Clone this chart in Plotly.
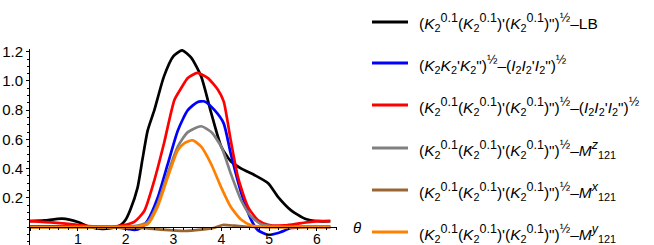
import plotly.graph_objects as go

# ---- data ----
lb_x = [0, 0.3, 0.67, 1.0, 1.25, 1.5, 1.75, 1.9, 2.0, 2.1, 2.25, 2.35, 2.46, 2.6, 2.8, 3.0, 3.18, 3.37, 3.58, 3.79, 4.0, 4.2, 4.42, 4.7, 4.98, 5.19, 5.46, 5.75, 6.03, 6.28]
lb_y = [0.04, 0.045, 0.057, 0.035, 0.0, -0.012, -0.005, 0.015, 0.05, 0.12, 0.27, 0.46, 0.66, 0.80, 1.03, 1.17, 1.21, 1.16, 1.03, 0.78, 0.55, 0.45, 0.40, 0.355, 0.30, 0.205, 0.114, 0.057, 0.04, 0.04]

kk_x = [0, 0.5, 1.0, 1.5, 1.8, 2.04, 2.18, 2.32, 2.46, 2.67, 2.88, 3.09, 3.3, 3.5, 3.65, 3.86, 4.05, 4.2, 4.42, 4.63, 4.77, 4.98, 5.19, 5.46, 5.68, 6.0, 6.28]
kk_y = [0.005, 0.005, 0.003, 0.0, -0.003, -0.012, -0.02, -0.005, 0.045, 0.2, 0.43, 0.66, 0.8, 0.855, 0.86, 0.8, 0.71, 0.5, 0.23, 0.046, -0.023, -0.053, -0.041, -0.007, 0.0, 0.0, 0.0]

ki_x = [0, 0.5, 1.0, 1.3, 1.8, 2.0, 2.18, 2.39, 2.6, 2.8, 3.02, 3.16, 3.3, 3.5, 3.72, 3.93, 4.05, 4.2, 4.35, 4.56, 4.77, 4.98, 5.33, 5.68, 6.03, 6.28]
ki_y = [0.04, 0.03, 0.015, 0.005, 0.005, 0.015, 0.035, 0.11, 0.32, 0.57, 0.87, 0.95, 1.02, 1.055, 1.02, 0.94, 0.86, 0.59, 0.34, 0.137, 0.046, 0.016, 0.011, 0.027, 0.04, 0.04]

mz_x = [0, 1.0, 2.0, 2.25, 2.46, 2.67, 2.88, 3.09, 3.3, 3.58, 3.79, 4.0, 4.2, 4.42, 4.63, 4.84, 5.2, 6.28]
mz_y = [0.0, 0.0, 0.003, 0.01, 0.034, 0.16, 0.365, 0.55, 0.65, 0.69, 0.65, 0.55, 0.365, 0.18, 0.07, 0.018, 0.005, 0.005]

mx_x = [0, 1.0, 2.0, 2.39, 2.74, 3.23, 3.58, 3.86, 4.03, 4.28, 4.56, 5.0, 6.28]
mx_y = [0, 0, -0.002, -0.008, -0.018, -0.027, -0.018, -0.005, 0.014, 0.009, 0.002, 0.0, 0.0]

my_x = [0, 1.0, 2.0, 2.25, 2.46, 2.67, 2.88, 3.09, 3.23, 3.4, 3.58, 3.79, 4.0, 4.2, 4.42, 4.63, 5.0, 6.28]
my_y = [0.0, 0.0, 0.0, 0.005, 0.02, 0.14, 0.34, 0.525, 0.575, 0.594, 0.55, 0.43, 0.27, 0.137, 0.05, 0.011, 0.0, 0.0]

x_ticks = [0, 1, 2, 3, 4, 5, 6]
x_ticklabels = ["", "1", "2", "3", "4", "5", "6"]
y_ticks = [0.2, 0.4, 0.6, 0.8, 1.0, 1.2]
y_ticklabels = ["0.2", "0.4", "0.6", "0.8", "1.0", "1.2"]

SUP = "<sup><span style='font-size:12.5px'>%s</span></sup>"
K2 = "<i>K</i><sub>2</sub>" + (SUP % "0.1")
HALF = SUP % "½"
K = "(" + K2 + "(" + K2 + ")'(" + K2 + ")\")" + HALF
I = "(<i>I</i><sub>2</sub><i>I</i><sub>2</sub>'<i>I</i><sub>2</sub>\")" + HALF
names = [
    K + "–LB",
    "(<i>K</i><sub>2</sub><i>K</i><sub>2</sub>'<i>K</i><sub>2</sub>\")" + HALF + "–" + I,
    K + "–" + I,
    K + "–<i>M</i>" + (SUP % "<i>z</i>") + "<sub>121</sub>",
    K + "–<i>M</i>" + (SUP % "<i>x</i>") + "<sub>121</sub>",
    K + "–<i>M</i>" + (SUP % "<i>y</i>") + "<sub>121</sub>",
]
colors = ["#000000", "#0000FF", "#FF0000", "#808080", "#996633", "#FF8000"]
series = [(lb_x, lb_y), (kk_x, kk_y), (ki_x, ki_y), (mz_x, mz_y), (mx_x, mx_y), (my_x, my_y)]

fig = go.Figure()
for i, ((xs, ys), nm, c) in enumerate(zip(series, names, colors)):
    fig.add_trace(go.Scatter(x=xs, y=ys, mode="lines", name=nm,
                             line=dict(color=c, width=2.7, shape="spline", smoothing=0.6),
                             showlegend=False, hoverinfo="skip"))

L, T, W, H = 30, 49, 307, 196
ymin, ymax = -0.123, 1.219
xpos = (0 - ymin) / (ymax - ymin)

def px(x):
    return (x - L) / W

def py(y):
    return (T + H - y) / H

legend_rows = [22, 63, 105, 148, 190, 232]
shapes = []
annotations = []
for row, nm, c in zip(legend_rows, names, colors):
    shapes.append(dict(type="line", xref="paper", yref="paper",
                       x0=px(372), x1=px(408), y0=py(row), y1=py(row),
                       line=dict(color=c, width=3)))
    annotations.append(dict(text=nm, xref="paper", yref="paper", x=px(417), y=py(row + 1),
                            xanchor="left", yanchor="middle", showarrow=False,
                            font=dict(size=15.5)))
annotations.append(dict(text="<i>θ</i>", xref="paper", yref="paper",
                        x=px(357), y=xpos, xanchor="center", yanchor="middle",
                        showarrow=False, font=dict(size=15)))

fig.update_layout(
    width=654, height=245,
    margin=dict(l=L, r=654 - L - W, t=T, b=245 - T - H),
    paper_bgcolor="white", plot_bgcolor="white",
    font=dict(family="Liberation Sans, Arial, sans-serif", size=15, color="black"),
    showlegend=False,
    xaxis=dict(range=[0, 6.42], anchor="free", position=xpos, automargin=False,
               showline=True, linecolor="black", linewidth=1,
               tickmode="array", tickvals=x_ticks, ticktext=x_ticklabels,
               ticks="outside", ticklen=3, tickcolor="black", ticklabelstandoff=-4,
               minor=dict(tickmode="linear", tick0=0, dtick=0.2, ticks="outside", ticklen=2, tickcolor="black"),
               showgrid=False, zeroline=False, tickfont=dict(size=14)),
    yaxis=dict(range=[ymin, ymax], automargin=False,
               showline=True, linecolor="black", linewidth=1,
               tickmode="array", tickvals=y_ticks, ticktext=y_ticklabels,
               ticks="outside", ticklen=3, tickcolor="black",
               minor=dict(tickmode="linear", tick0=0, dtick=0.05, ticks="outside", ticklen=2, tickcolor="black"),
               showgrid=False, zeroline=False, tickfont=dict(size=15)),
    shapes=shapes,
    annotations=annotations,
)

fig.write_html("out.html", config={"displayModeBar": False},
               post_script="document.body.style.margin='0';document.body.style.overflow='hidden';")
